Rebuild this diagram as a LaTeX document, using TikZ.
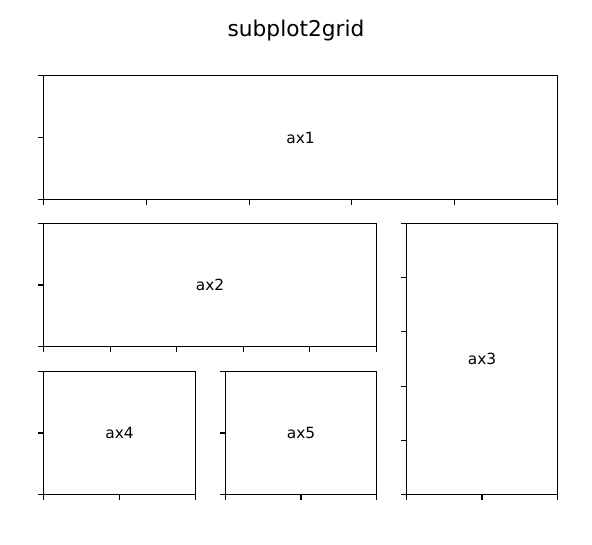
\documentclass[tikz,border=0pt]{standalone}
\usepackage{fontspec}
\setmainfont{DejaVu Sans}
\usetikzlibrary{calc}
\begin{document}
\begin{tikzpicture}[x=1pt,y=-1pt,
  axbox/.style={draw=black,line width=1.1pt,inner sep=0pt,outer sep=0pt,
    font=\fontsize{15.4}{18}\selectfont},
  tickline/.style={draw=black,line width=1.1pt},
  titletext/.style={font=\fontsize{21.7}{26}\selectfont,inner sep=0pt}]
\def\tl{5.5}
\useasboundingbox (0,0) rectangle (592,545);
\node[titletext] (title) at (296,31) {subplot2grid};
% axes
\node[axbox,minimum width=514pt,minimum height=124pt] (ax1) at (300.5,137.5) {ax1};
\node[axbox,minimum width=333pt,minimum height=123pt] (ax2) at (210,285) {ax2};
\node[axbox,minimum width=151pt,minimum height=271pt] (ax3) at (482,359) {ax3};
\node[axbox,minimum width=152pt,minimum height=123pt] (ax4) at (119.5,433) {ax4};
\node[axbox,minimum width=151pt,minimum height=123pt] (ax5) at (301,433) {ax5};
% ticks
\foreach \a/\nx/\ny in {ax1/5/2, ax2/5/2, ax3/2/5, ax4/2/2, ax5/2/2}{
  \foreach \i in {0,...,\nx}{
    \draw[tickline] ($(\a.south west)!\i/\nx!(\a.south east)$) -- ++(0,\tl);
  }
  \foreach \j in {0,...,\ny}{
    \draw[tickline] ($(\a.south west)!\j/\ny!(\a.north west)$) -- ++(-\tl,0);
  }
}
\end{tikzpicture}
\end{document}
